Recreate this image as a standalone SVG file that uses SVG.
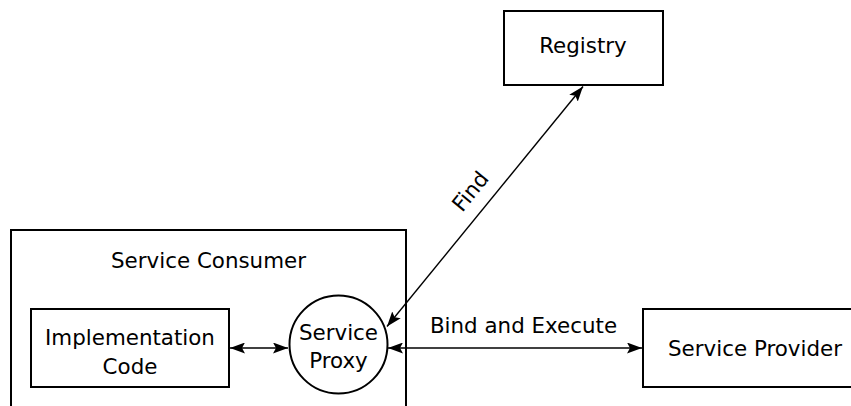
<svg xmlns="http://www.w3.org/2000/svg" width="851" height="406" viewBox="0 0 851 406">
<style>
.box{fill:#fff;stroke:#000;stroke-width:2}
.t{font-family:"DejaVu Sans",sans-serif;font-size:21.4px;fill:#000;text-anchor:middle}
.c{stroke:#000;stroke-width:1.4;fill:none;marker-start:url(#ah);marker-end:url(#ah)}
</style>
<defs>
<marker id="ah" viewBox="0 0 15 11" refX="15" refY="5.5" markerWidth="15" markerHeight="11" markerUnits="userSpaceOnUse" orient="auto-start-reverse">
<path d="M0,0 L15,5.5 L0,11 L3,5.5 Z" fill="#000"/>
</marker>
</defs>
<rect width="851" height="406" fill="#fff"/>
<g id="consumer">
<rect class="box" x="11" y="230" width="395" height="190"/>
<text class="t" x="208.5" y="268">Service Consumer</text>
</g>
<g id="impl">
<rect class="box" x="31" y="309" width="198" height="78"/>
<text class="t" x="130" y="345">Implementation</text>
<text class="t" x="130" y="374">Code</text>
</g>
<g id="proxy">
<circle class="box" cx="338.5" cy="344.5" r="49"/>
<text class="t" x="338.5" y="340">Service</text>
<text class="t" x="338.5" y="368">Proxy</text>
</g>
<g id="registry">
<rect class="box" x="504" y="11" width="159" height="74"/>
<text class="t" x="583" y="53">Registry</text>
</g>
<g id="provider">
<rect class="box" x="643" y="309" width="215" height="78"/>
<text class="t" x="755" y="356">Service Provider</text>
</g>
<g id="connectors">
<line class="c" x1="230" y1="348" x2="288" y2="348"/>
<line class="c" x1="388" y1="348" x2="642" y2="348"/>
<line class="c" x1="387" y1="326.5" x2="583" y2="86.5"/>
<text class="t" x="523.5" y="333">Bind and Execute</text>
<text class="t" transform="translate(476,196) rotate(-50.8)">Find</text>
</g>
</svg>
